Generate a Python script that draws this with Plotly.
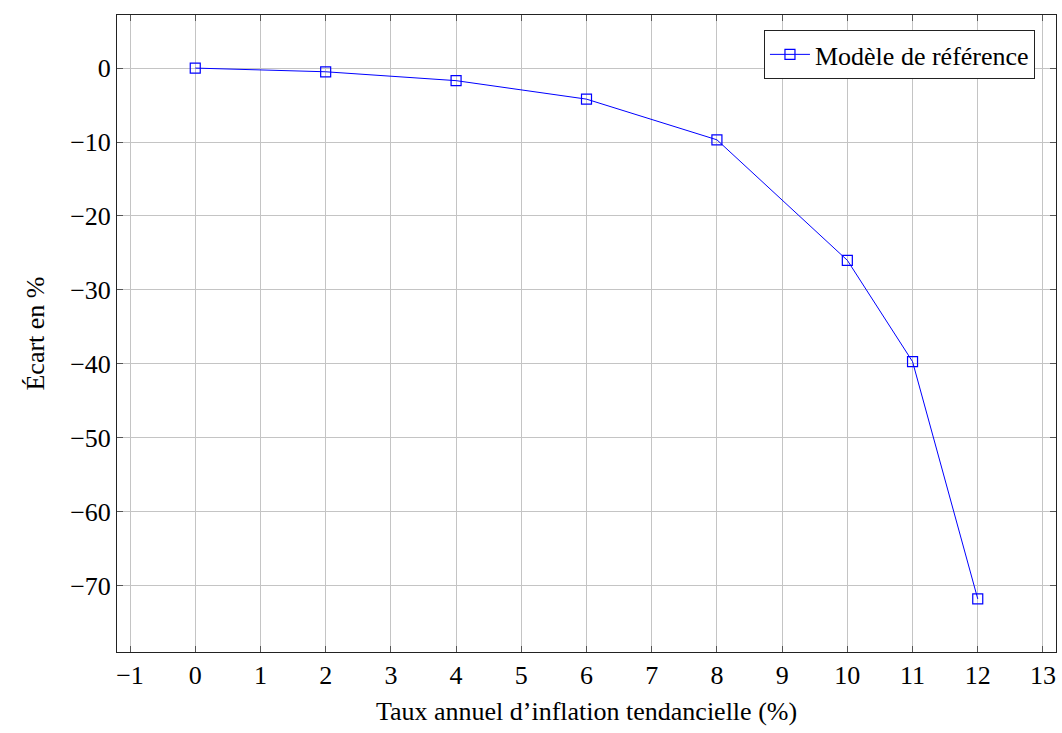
import plotly.graph_objects as go

# Trend inflation rate (%) and deviation from the baseline (%)
inflation = [0, 2, 4, 6, 8, 10, 11, 12]
ecart = [0, -0.5, -1.7, -4.2, -9.7, -26.0, -39.7, -71.8]
series_name = "Modèle de référence"

x_ticks = list(range(-1, 14))
y_ticks = [0, -10, -20, -30, -40, -50, -60, -70]

FONT = "Liberation Serif"
FS = 26

fig = go.Figure()
fig.add_trace(go.Scatter(
    x=inflation, y=ecart, name=series_name,
    mode="lines+markers",
    line=dict(color="#0000ff", width=1),
    marker=dict(symbol="square-open", size=10, color="#0000ff", line=dict(width=1.2)),
))

axis_common = dict(
    showgrid=True, gridcolor="#c4c4c4", gridwidth=1,
    showline=True, linecolor="#222222", linewidth=1, mirror="allticks",
    ticks="inside", ticklen=6, tickcolor="#555555", tickwidth=1,
    zeroline=False,
    tickfont=dict(family=FONT, size=FS, color="black"),
)

fig.update_xaxes(
    range=[-1.2, 13.2], tickmode="array", tickvals=x_ticks,
    title=dict(text="Taux annuel d\u2019inflation tendancielle (%)",
               font=dict(family=FONT, size=FS, color="black"), standoff=12),
    **axis_common,
)
fig.update_yaxes(
    range=[-78.98, 7.18], tickmode="array", tickvals=y_ticks,
    title=dict(text="Écart en %", font=dict(family=FONT, size=FS, color="black"), standoff=18),
    **axis_common,
)

fig.update_layout(
    width=1062, height=733,
    margin=dict(l=117, r=6, t=15, b=81),
    paper_bgcolor="white", plot_bgcolor="white",
    font=dict(family=FONT, color="black"),
    legend=dict(
        x=0.9776, y=0.9765, xanchor="right", yanchor="top",
        bgcolor="white", bordercolor="#222222", borderwidth=1,
        font=dict(family=FONT, size=FS, color="black"),
        itemwidth=40,
    ),
    showlegend=True,
)

fig.write_html("out.html")
